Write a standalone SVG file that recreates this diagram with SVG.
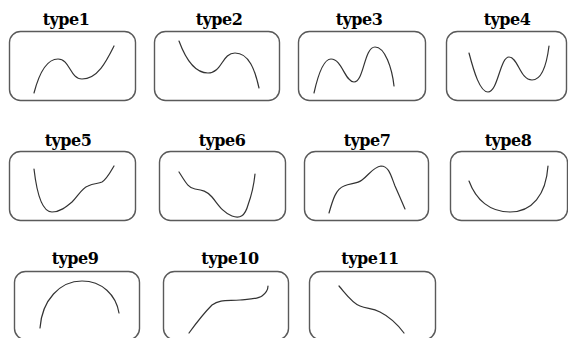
<svg xmlns="http://www.w3.org/2000/svg" width="568" height="338" viewBox="0 0 568 338">
  <style>
    .frame { fill: #ffffff; stroke: #5a5a5a; stroke-width: 1.4; }
    .curve { fill: none; stroke: #333333; stroke-width: 1.2; stroke-linecap: round; }
    .label { font-family: "DejaVu Serif", serif; font-weight: 700; font-size: 16px; fill: #000000; text-anchor: middle; letter-spacing: -0.5px; }
  </style>
  <rect width="568" height="338" fill="#ffffff"/>

  <!-- row 1 -->
  <g id="type1">
    <text class="label" x="66" y="25">type1</text>
    <rect class="frame" x="9.5" y="31.5" width="126" height="69" rx="11"/>
    <path class="curve" d="M34,93 C40,70 48,59 58,59 C70,59 70,79 82,79 C98,79 107,60 114,46"/>
  </g>
  <g id="type2">
    <text class="label" x="219" y="25">type2</text>
    <rect class="frame" x="154.5" y="31.5" width="125" height="69" rx="11"/>
    <path class="curve" d="M179,41 C186,60 195,73 208,73 C222,73 222,53 235,53 C249,53 255,70 259,88"/>
  </g>
  <g id="type3">
    <text class="label" x="359" y="25">type3</text>
    <rect class="frame" x="298.5" y="31.5" width="127" height="69" rx="11"/>
    <path class="curve" d="M314,93 C318,75 324,59 331,59 C342,59 345,82 354,82 C364,82 364,47 375,47 C385,47 392,68 394,86"/>
  </g>
  <g id="type4">
    <text class="label" x="507" y="25">type4</text>
    <rect class="frame" x="446.5" y="31.5" width="120" height="69" rx="11"/>
    <path class="curve" d="M469,53 C474,72 480,92 488,92 C498,92 500,57 509,57 C518,57 520,80 532,80 C543,80 547,62 549,46"/>
  </g>

  <!-- row 2 -->
  <g id="type5">
    <text class="label" x="68" y="146">type5</text>
    <rect class="frame" x="9.5" y="151.5" width="126" height="69" rx="11"/>
    <path class="curve" d="M34,169 C37,195 42,212 52,212 C60,212 66,207 72,202 C78,196 82,188 88,186 C94,183 98,184 102,182 C107,179 111,171 114,166"/>
  </g>
  <g id="type6">
    <text class="label" x="222" y="146">type6</text>
    <rect class="frame" x="159.5" y="151.5" width="126" height="69" rx="11"/>
    <path class="curve" d="M179,172 C185,181 188,188 195,189 C202,190 207,191 212,197 C218,204 222,212 232,216 C240,219 245,216 248,205 C252,194 254,184 255,174"/>
  </g>
  <g id="type7">
    <text class="label" x="367" y="146">type7</text>
    <rect class="frame" x="304.5" y="151.5" width="124" height="69" rx="11"/>
    <path class="curve" d="M329,213 C333,199 336,189 344,186 C351,183 357,184 362,180 C369,175 373,167 381,166 C389,166 391,176 395,186 C399,195 402,202 405,209"/>
  </g>
  <g id="type8">
    <text class="label" x="508" y="146">type8</text>
    <rect class="frame" x="450.5" y="151.5" width="117" height="69" rx="11"/>
    <path class="curve" d="M469,181 C476,200 490,212 510,212 C532,212 546,195 548,166"/>
  </g>

  <!-- row 3 -->
  <g id="type9">
    <text class="label" x="75" y="264">type9</text>
    <rect class="frame" x="14.5" y="271.5" width="125" height="68" rx="11"/>
    <path class="curve" d="M40,328 C42,300 60,281 82,281 C102,281 116,295 119,313"/>
  </g>
  <g id="type10">
    <text class="label" x="230" y="264">type10</text>
    <rect class="frame" x="163.5" y="271.5" width="125" height="68" rx="11"/>
    <path class="curve" d="M189,333 C197,322 205,312 212,305 C220,299 228,301 240,300 C252,299 258,299 262,296 C266,293 268,289 268,286"/>
  </g>
  <g id="type11">
    <text class="label" x="370" y="264">type11</text>
    <rect class="frame" x="309.5" y="271.5" width="126" height="68" rx="11"/>
    <path class="curve" d="M339,286 C346,294 352,303 360,306 C367,309 372,308 380,312 C390,317 398,325 404,333"/>
  </g>
</svg>
